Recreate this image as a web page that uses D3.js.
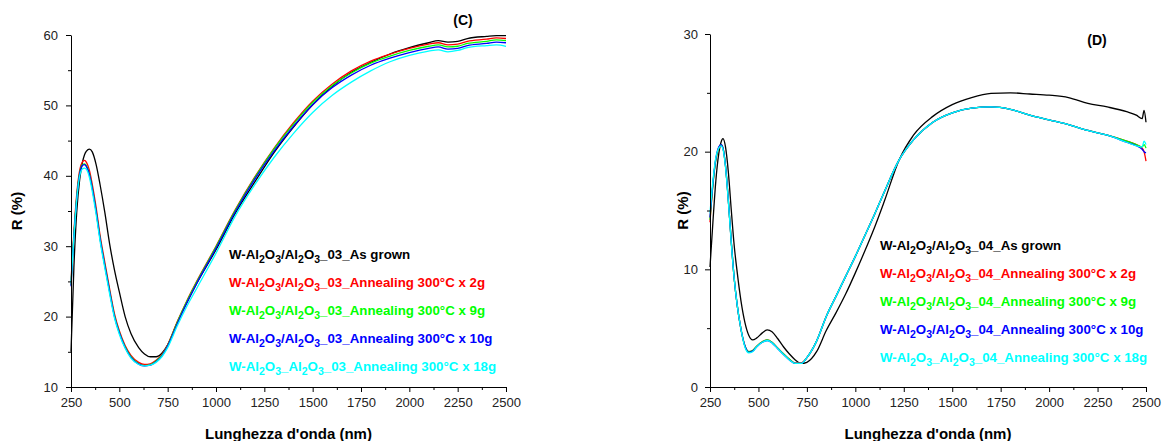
<!DOCTYPE html>
<html><head><meta charset="utf-8">
<script src="https://cdn.jsdelivr.net/npm/d3@7"></script>
<style>body{margin:0;background:#fff}svg{display:block}</style>
</head><body>
<svg id="chart" width="1163" height="441"></svg>
<script>
// ---------- Panel C data ----------
const wlC = [250,265,280,295,310,320,330,345,360,380,400,425,450,475,500,530,560,600,630,660,690,720,750,800,850,900,1000,1100,1200,1300,1400,1500,1600,1700,1800,1900,2000,2100,2150,2200,2250,2300,2400,2450,2500];
const cAsGrown = [15,27,35,39.5,42,43,43.5,43.8,43.4,41.6,38.8,34.8,30.3,26.6,23.5,20,17.6,15.6,14.7,14.3,14.3,14.8,16.0,19.2,22.0,24.7,29.5,34.7,39.1,43.3,46.9,50.1,52.7,54.7,56.1,57.3,58.2,58.9,59.2,59.0,59.1,59.5,59.8,59.9,59.9];
const cAnn2g = [25,32,37.5,40.8,42,42.2,41.9,40.8,38.8,35.5,31.6,27.7,23.9,20.4,18.0,15.9,14.5,13.5,13.2,13.3,13.8,14.6,16.0,19.3,22.3,25.0,30.0,35.2,39.8,43.9,47.5,50.6,53.0,54.9,56.3,57.3,58.1,58.7,58.9,58.6,58.7,59.1,59.4,59.6,59.5];
const cAnn9g = [24.5,31.6,37.1,40.4,41.6,41.7,41.4,40.3,38.3,35.0,31.2,27.3,23.6,20.1,17.8,15.7,14.3,13.3,13.05,13.15,13.7,14.5,15.9,19.2,22.2,24.9,29.9,35.1,39.7,43.8,47.3,50.4,52.8,54.6,56.0,57.0,57.8,58.4,58.6,58.3,58.4,58.8,59.1,59.3,59.2];
const cAnn10g = [24.3,31.4,36.9,40.3,41.5,41.6,41.3,40.2,38.2,34.9,31.1,27.2,23.5,20.0,17.7,15.6,14.2,13.25,13.0,13.1,13.6,14.4,15.8,19.0,22.0,24.7,29.7,34.9,39.5,43.5,47.0,50.1,52.5,54.3,55.7,56.7,57.5,58.1,58.3,58.0,58.1,58.5,58.8,59.0,58.9];
const cAnn18g = [24.8,31.2,36.7,40.0,41.0,41.1,40.9,39.8,37.8,34.5,30.8,26.9,23.2,19.8,17.5,15.5,14.1,13.2,13.0,13.1,13.5,14.3,15.6,18.7,21.5,24.0,29.0,34.3,38.7,42.6,46.0,49.0,51.4,53.3,54.9,56.2,57.1,57.7,57.9,57.6,57.8,58.2,58.5,58.6,58.4];

// ---------- Panel D data ----------
const wlD = [250,265,280,295,307,317,330,345,360,375,390,410,430,450,470,490,520,545,570,600,630,660,690,720,750,800,850,900,950,1000,1050,1100,1150,1226,1300,1400,1500,1600,1700,1800,1900,2000,2100,2200,2300,2400,2450,2480,2490,2500];
const dAsGrown = [10.2,14,17.5,19.8,20.8,21.1,20.4,18.2,15.0,12.0,9.8,7.3,5.5,4.4,4.0,4.15,4.6,4.85,4.7,4.1,3.4,2.8,2.3,2.0,2.1,3.0,4.8,6.3,7.9,9.7,11.6,13.6,15.8,19.3,21.4,23.0,24.0,24.6,24.95,25.0,24.9,24.8,24.6,24.1,23.8,23.4,23.1,22.8,23.5,22.5];
const dAnn2g = [14.0,17.2,19.3,20.3,20.6,20.3,18.8,15.8,12.3,9.2,7.0,4.9,3.5,3.0,3.1,3.45,3.85,4.0,3.8,3.3,2.8,2.35,2.05,2.05,2.5,3.9,6.0,7.7,9.4,11.1,12.9,14.7,16.6,19.3,21.0,22.5,23.3,23.7,23.8,23.6,23.1,22.7,22.3,21.8,21.4,20.9,20.6,20.3,20.0,19.2];
const dAnn9g = [14.2,17.2,19.3,20.3,20.6,20.3,18.8,15.8,12.3,9.2,7.0,4.9,3.5,3.0,3.1,3.45,3.85,4.0,3.8,3.3,2.8,2.35,2.0,2.0,2.5,3.9,6.0,7.7,9.4,11.1,12.9,14.7,16.6,19.3,21.0,22.5,23.3,23.7,23.8,23.6,23.1,22.7,22.3,21.8,21.4,20.9,20.6,20.4,20.6,20.3];
const dAnn10g = [14.4,17.3,19.4,20.4,20.6,20.3,18.8,15.8,12.3,9.2,7.0,4.9,3.5,2.95,3.05,3.4,3.8,3.95,3.75,3.25,2.75,2.3,2.0,2.0,2.5,3.9,6.0,7.7,9.4,11.1,12.9,14.7,16.6,19.3,21.0,22.5,23.3,23.7,23.8,23.6,23.1,22.7,22.3,21.8,21.4,20.8,20.5,20.2,20.0,19.9];
const dAnn18g = [14.8,17.5,19.5,20.3,20.5,20.2,18.7,15.7,12.2,9.2,7.0,4.9,3.4,2.9,3.0,3.4,3.8,3.95,3.75,3.25,2.75,2.3,2.0,2.0,2.5,3.9,6.0,7.7,9.4,11.1,12.9,14.7,16.6,19.3,21.0,22.5,23.3,23.7,23.8,23.6,23.1,22.7,22.3,21.8,21.4,20.8,20.5,20.4,20.9,20.6];

// ---------- Axes, labels ----------
const xTicks = [250,500,750,1000,1250,1500,1750,2000,2250,2500];
const yTicksC = [10,20,30,40,50,60];
const yTicksD = [0,10,20,30];
const colors = ["#000000","#ff0000","#00ff00","#0000ff","#00ffff"];
const legendC = [
  ["W-Al",["2"],"O",["3"],"/Al",["2"],"O",["3"],"_03_As grown"],
  ["W-Al",["2"],"O",["3"],"/Al",["2"],"O",["3"],"_03_Annealing 300°C x 2g"],
  ["W-Al",["2"],"O",["3"],"/Al",["2"],"O",["3"],"_03_Annealing 300°C x 9g"],
  ["W-Al",["2"],"O",["3"],"/Al",["2"],"O",["3"],"_03_Annealing 300°C x 10g"],
  ["W-Al",["2"],"O",["3"],"_Al",["2"],"O",["3"],"_03_Annealing 300°C x 18g"]
];
const legendD = [
  ["W-Al",["2"],"O",["3"],"/Al",["2"],"O",["3"],"_04_As grown"],
  ["W-Al",["2"],"O",["3"],"/Al",["2"],"O",["3"],"_04_Annealing 300°C x 2g"],
  ["W-Al",["2"],"O",["3"],"/Al",["2"],"O",["3"],"_04_Annealing 300°C x 9g"],
  ["W-Al",["2"],"O",["3"],"/Al",["2"],"O",["3"],"_04_Annealing 300°C x 10g"],
  ["W-Al",["2"],"O",["3"],"_Al",["2"],"O",["3"],"_04_Annealing 300°C x 18g"]
];
const yLabel = "R (%)";
const xLabel = "Lunghezza d'onda (nm)";

const svg = d3.select("#chart");
const FONT = "'Liberation Sans', Arial, sans-serif";
const SUB = 3.5;

function panel(cfg){
  const g = svg.append("g");
  const x = d3.scaleLinear().domain([250,2500]).range([cfg.x0, cfg.x1]);
  const y = d3.scaleLinear().domain(cfg.yDomain).range([cfg.y0, cfg.y1]);

  // lines
  const line = d3.line().curve(d3.curveMonotoneX)
    .x(d => x(d[0])).y(d => y(d[1]));
  cfg.series.forEach((vals, i) => {
    g.append("path")
      .datum(cfg.wl.map((w, k) => [w, vals[k]]))
      .attr("fill","none").attr("stroke", colors[i])
      .attr("stroke-width", 1.3).attr("stroke-linejoin","round")
      .attr("d", line);
  });

  // x axis
  const xa = d3.axisBottom(x).tickValues(xTicks).tickSize(5).tickSizeOuter(0).tickPadding(6).tickFormat(d3.format("d"));
  const xMinor = d3.axisBottom(x).tickValues(d3.range(375,2500,250)).tickSize(3).tickSizeOuter(0).tickFormat("");
  const gx = g.append("g").attr("transform",`translate(0,${cfg.y0})`).call(xa);
  g.append("g").attr("transform",`translate(0,${cfg.y0})`).call(xMinor).select(".domain").remove();
  gx.selectAll("text").attr("font-family",FONT).attr("font-size",13).attr("fill","#222");

  // y axis
  const ya = d3.axisLeft(y).tickValues(cfg.yTicks).tickSize(5).tickSizeOuter(0).tickPadding(cfg.yPad).tickFormat(d3.format("d"));
  const yMinorVals = d3.range(cfg.yDomain[0]+5, cfg.yDomain[1], 10);
  const yMinor = d3.axisLeft(y).tickValues(yMinorVals).tickSize(3).tickSizeOuter(0).tickFormat("");
  const gy = g.append("g").attr("transform",`translate(${cfg.x0},0)`).call(ya);
  g.append("g").attr("transform",`translate(${cfg.x0},0)`).call(yMinor).select(".domain").remove();
  gy.selectAll("text").attr("font-family",FONT).attr("font-size",13).attr("fill","#222");
  g.selectAll(".domain, .tick line").attr("stroke","#000").attr("stroke-width",1);

  // axis titles
  g.append("text").attr("transform",`translate(${cfg.yLabX},${(cfg.y0+cfg.y1)/2}) rotate(-90)`)
    .attr("text-anchor","middle").attr("dy","0.35em")
    .attr("font-family",FONT).attr("font-weight","bold").attr("font-size",15).text(yLabel);
  g.append("text").attr("x",(cfg.x0+cfg.x1)/2).attr("y",439)
    .attr("text-anchor","middle")
    .attr("font-family",FONT).attr("font-weight","bold").attr("font-size",15).text(xLabel);

  // panel tag
  g.append("text").attr("x",cfg.tagX).attr("y",cfg.tagY).attr("text-anchor","middle")
    .attr("font-family",FONT).attr("font-weight","bold").attr("font-size",14).text(cfg.tag);

  // legend
  cfg.legend.forEach((parts, i) => {
    const t = g.append("text").attr("x",cfg.legX).attr("y",cfg.legY + i*cfg.legDy)
      .attr("font-family",FONT).attr("font-weight","bold").attr("font-size",13.3)
      .attr("fill",colors[i]);
    let down = false;
    parts.forEach(p => {
      if (Array.isArray(p)) {
        t.append("tspan").attr("font-size",10.5).attr("dy", down ? 0 : SUB).text(p[0]);
        down = true;
      } else {
        t.append("tspan").attr("dy", down ? -SUB : 0).text(p);
        down = false;
      }
    });
  });
}

panel({x0:71, x1:506, y0:387, y1:35, yDomain:[10,60], yTicks:yTicksC, yPad:8,
  wl:wlC, series:[cAsGrown,cAnn2g,cAnn9g,cAnn10g,cAnn18g],
  yLabX:17, tag:"(C)", tagX:463, tagY:25, legend:legendC, legX:229, legY:259, legDy:28});
panel({x0:710, x1:1146, y0:387, y1:34, yDomain:[0,30], yTicks:yTicksD, yPad:7,
  wl:wlD, series:[dAsGrown,dAnn2g,dAnn9g,dAnn10g,dAnn18g],
  yLabX:683, tag:"(D)", tagX:1097, tagY:45, legend:legendD, legX:880, legY:250, legDy:28});
</script>
</body></html>
